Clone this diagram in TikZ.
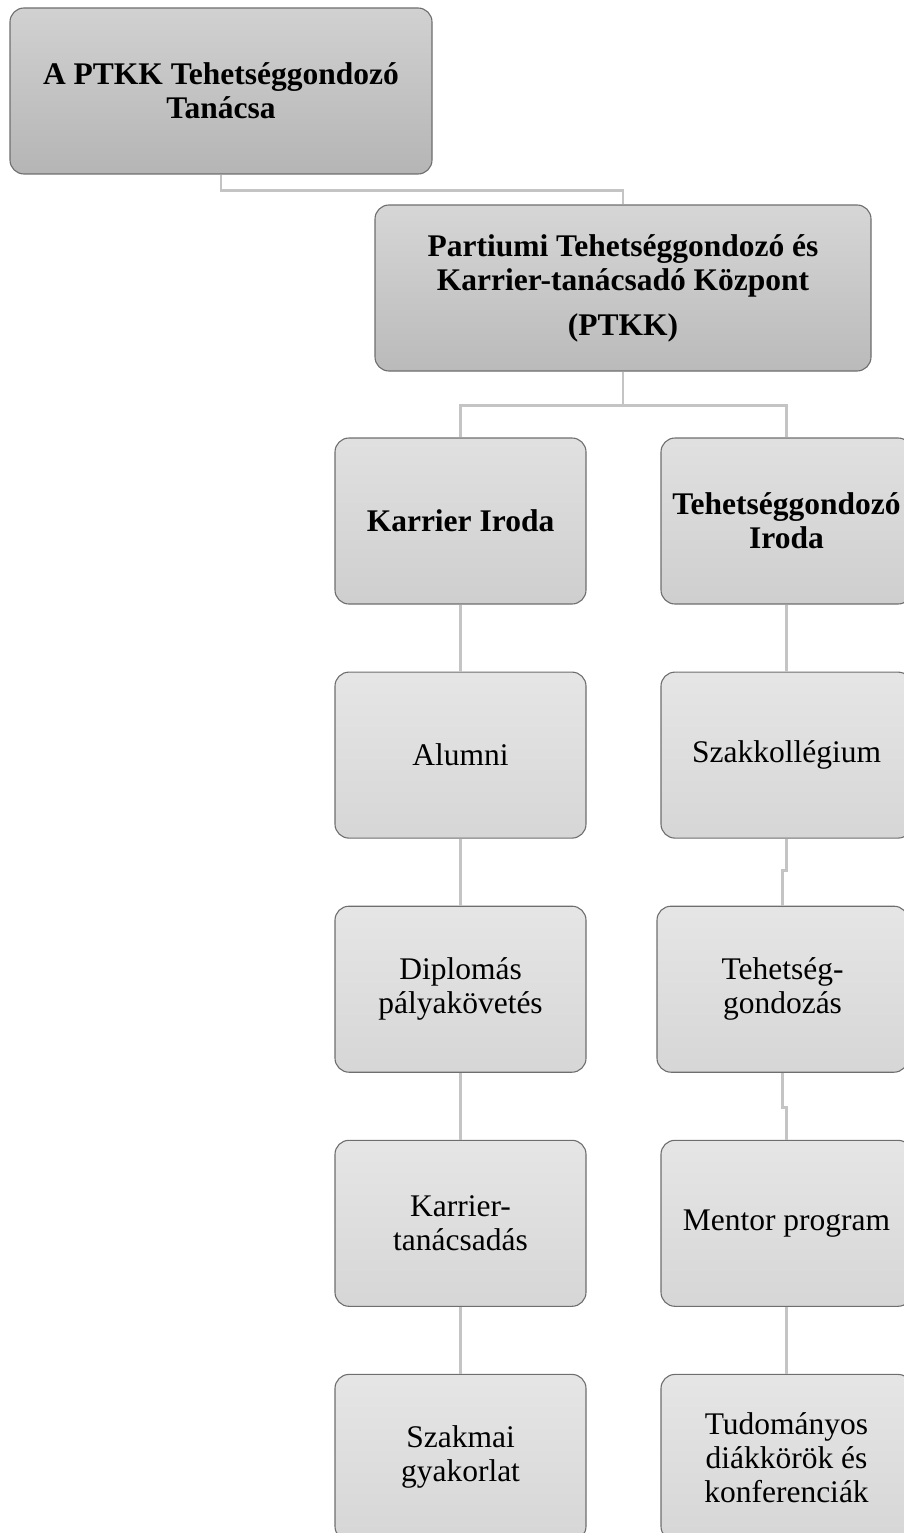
\documentclass[tikz,border=0pt]{standalone}
\usepackage{fontspec}
\setmainfont{Liberation Serif}
\usepackage{xcolor}
\usepackage{tikz}
\usetikzlibrary{positioning,calc}

\begin{document}
\begin{tikzpicture}[x=1pt,y=-1pt,
  box/.style={draw=black!57, line width=1.1pt, rounded corners=14pt,
    minimum width=251pt, minimum height=166pt, align=center,
    font=\fontsize{31.5}{34}\selectfont, top color=black!10, bottom color=black!16},
  head/.style={box, font=\fontsize{31.5}{34}\selectfont\bfseries},
  conn/.style={draw=black!23, line width=2.6pt}]
\useasboundingbox (0,0) rectangle (904,1533);
\clip (0,0) rectangle (904,1533);

% Council and centre
\node[head, minimum width=422pt, top color=black!18, bottom color=black!29] (tanacs) at (221,91)
  {A PTKK Tehetséggondozó\\Tanácsa};
\node[head, minimum width=496pt, top color=black!16, bottom color=black!27] (ptkk) at (623,288)
  {Partiumi Tehetséggondozó és\\Karrier-tanácsadó Központ\\[11pt](PTKK)};

% Offices
\node[head, top color=black!12, bottom color=black!19] (kiroda) at (460.5,521) {Karrier Iroda};
\node[head, top color=black!12, bottom color=black!19] (tiroda) at (786.5,521) {Tehetséggondozó\\Iroda};

% Career office column
\node[box, below=67pt of kiroda] (alumni) {Alumni};
\node[box, below=67pt of alumni] (diploma) {Diplomás\\pályakövetés};
\node[box, below=67pt of diploma] (tanacsadas) {Karrier-\\tanácsadás};
\node[box, below=67pt of tanacsadas] (gyakorlat) {Szakmai\\gyakorlat};

% Talent office column
\node[box, below=67pt of tiroda] (szakk) {Szakkollégium};
\node[box, below=67pt of szakk, xshift=-4pt] (gondozas) {Tehetség-\\gondozás};
\node[box, below=67pt of gondozas, xshift=4pt] (mentor) {Mentor program};
\node[box, below=67pt of mentor] (tdk) {Tudományos\\diákkörök és\\konferenciák};

% Connectors
\draw[conn] (tanacs.south) -- ++(0,16) -| (ptkk.north);
\draw[conn] (ptkk.south) -- ++(0,34) -| (kiroda.north);
\draw[conn] (ptkk.south) -- ++(0,34) -| (tiroda.north);
\draw[conn] (kiroda.south) -- (alumni.north);
\draw[conn] (alumni.south) -- (diploma.north);
\draw[conn] (diploma.south) -- (tanacsadas.north);
\draw[conn] (tanacsadas.south) -- (gyakorlat.north);
\draw[conn] (tiroda.south) -- (szakk.north);
\draw[conn] (szakk.south) -- ++(0,32) -| (gondozas.north);
\draw[conn] (gondozas.south) -- ++(0,35) -| (mentor.north);
\draw[conn] (mentor.south) -- (tdk.north);

\end{tikzpicture}
\end{document}
